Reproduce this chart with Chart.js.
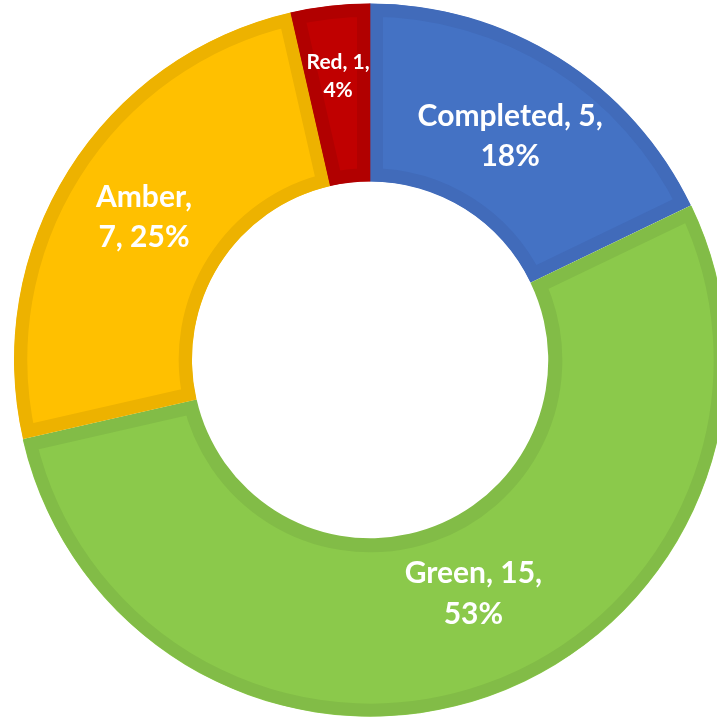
<!DOCTYPE html>
<html>
<head>
<meta charset="utf-8">
<script src="https://cdn.jsdelivr.net/npm/chart.js@4.4.0/dist/chart.umd.min.js"></script>
<style>
  html, body { margin: 0; padding: 0; background: #fff; overflow: hidden; }
  #wrap { width: 717px; height: 722px; overflow: hidden; position: relative; }
  canvas { position: absolute; left: 0; top: 0; }
</style>
</head>
<body>
<div id="wrap"><canvas id="chart" width="740" height="722"></canvas></div>
<script>
const categories = ['Completed', 'Green', 'Amber', 'Red'];
const counts = [5, 15, 7, 1];
const percents = [18, 53, 25, 4];

const fillColors = ['#4472C4', '#8BC94B', '#FFC000', '#C00000'];
const edgeColors = ['#416BBA', '#82BC47', '#EDB200', '#B10000'];

// label font size, wrap width, radial position (0 = inner edge, 1 = outer edge), angle nudge in degrees
const labelSize = [30, 30, 30, 21];
const labelWrap = [225, 180, 115, 80];
const labelPos = [0.48, 0.44, 0.5, 0.6];
const labelTurn = [0, -4.5, 0, 0];

function wrapText(ctx, text, maxWidth) {
  const words = text.split(' ');
  const lines = [];
  let line = '';
  words.forEach(w => {
    const test = line ? line + ' ' + w : w;
    if (line && ctx.measureText(test).width > maxWidth) {
      lines.push(line);
      line = w;
    } else {
      line = test;
    }
  });
  if (line) lines.push(line);
  return lines;
}

const sliceLabels = {
  id: 'sliceLabels',
  afterDatasetsDraw(chart) {
    const ctx = chart.ctx;
    const meta = chart.getDatasetMeta(0);
    meta.data.forEach((arc, i) => {
      const p = arc.getProps(['x', 'y', 'startAngle', 'endAngle', 'innerRadius', 'outerRadius']);
      const mid = (p.startAngle + p.endAngle) / 2 + labelTurn[i] * Math.PI / 180;
      const r = p.innerRadius + (p.outerRadius - p.innerRadius) * labelPos[i];
      const cx = p.x + Math.cos(mid) * r;
      const cy = p.y + Math.sin(mid) * r;
      const size = labelSize[i];
      ctx.save();
      ctx.font = 'bold ' + size + 'px Lato';
      ctx.fillStyle = '#ffffff';
      ctx.textAlign = 'center';
      ctx.textBaseline = 'middle';
      const text = categories[i] + ', ' + counts[i] + ', ' + percents[i] + '%';
      const lines = wrapText(ctx, text, labelWrap[i]);
      const lh = size * 1.35;
      const top = cy - (lines.length - 1) * lh / 2;
      lines.forEach((ln, k) => ctx.fillText(ln, cx, top + k * lh));
      ctx.restore();
    });
  }
};

const ctx = document.getElementById('chart').getContext('2d');
new Chart(ctx, {
  type: 'doughnut',
  data: {
    labels: categories,
    datasets: [{
      data: counts,
      backgroundColor: fillColors,
      borderColor: edgeColors,
      borderWidth: 13,
      borderAlign: 'inner',
      offset: [0, 3, 0, 0],
      hoverOffset: 0
    }]
  },
  options: {
    responsive: false,
    animation: false,
    events: [],
    cutout: '50%',
    layout: { padding: { top: 2, bottom: 5, left: 0, right: 0 } },
    plugins: {
      legend: { display: false },
      tooltip: { enabled: false }
    }
  },
  plugins: [sliceLabels]
});
</script>
</body>
</html>
